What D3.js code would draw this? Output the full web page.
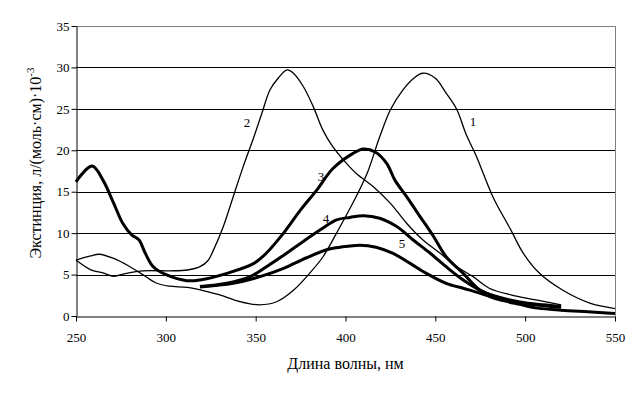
<!DOCTYPE html>
<html>
<head>
<meta charset="utf-8">
<script src="https://cdn.jsdelivr.net/npm/d3@7"></script>
<style>
  body { margin: 0; background: #fff; }
  svg text { font-family: "Liberation Serif", "Times New Roman", serif; }
</style>
</head>
<body>
<div id="chart"></div>
<script>
// кривые 1-5: длина волны (нм) и экстинция
const wl1 = [250, 258, 263, 271, 280, 287.5, 295, 302, 312, 323, 330, 341, 352, 362, 371, 380, 387.5, 395, 404, 412, 419, 425, 432, 438, 443, 450, 456, 462, 467, 473, 482, 492, 499, 508, 521, 536, 550];
const ext1 = [6.75, 7.25, 7.45, 6.95, 5.95, 4.95, 3.95, 3.6, 3.45, 2.95, 2.55, 1.75, 1.35, 1.75, 3.1, 5.15, 7.15, 10, 13.6, 17.2, 21.6, 24.9, 27.3, 28.7, 29.3, 28.7, 26.9, 24.9, 22, 19.2, 14.4, 10.4, 7.55, 5.15, 3.1, 1.55, 0.9];

const wl2 = [250, 258, 265, 271, 278, 287.5, 302, 312, 319, 323.5, 326.5, 332, 337.5, 343, 349, 353.5, 358, 362.5, 367.5, 371, 376.5, 382, 387.5, 393, 399, 406, 415.5, 425, 434, 443, 452.5, 462, 471, 480, 492, 506, 520];
const ext2 = [6.75, 5.6, 5.2, 4.8, 5.15, 5.45, 5.45, 5.55, 5.95, 6.7, 7.95, 10.8, 14.4, 18, 21.6, 24.5, 27.3, 28.7, 29.7, 29.3, 27.7, 25.3, 22.4, 20.4, 18.8, 17.2, 15.6, 13.6, 11.2, 9.2, 7.6, 5.95, 4.75, 3.35, 2.55, 1.95, 1.35];

const wl3 = [250, 259, 265, 271, 276, 281, 285, 288.5, 293, 300.5, 311.5, 319, 334, 349, 356, 365.5, 375, 384, 393, 404, 410, 416.5, 423, 427.5, 434, 441.5, 449, 456, 465.5, 475, 485, 497, 510, 520];
const ext3 = [16.2, 18.1, 16.4, 13.6, 11.2, 9.8, 9.2, 7.6, 5.95, 4.95, 4.26, 4.35, 5.15, 6.35, 7.6, 10, 12.8, 15.2, 17.8, 19.6, 20.15, 19.8, 18.4, 16.4, 14.4, 12, 9.6, 7.15, 5.15, 3.1, 2.3, 1.7, 1.35, 1.15];

const wl4 = [319, 334, 347, 356, 367, 376.5, 386, 395, 402.5, 410, 419, 428.5, 437.5, 447, 456, 465.5, 475, 485, 497, 510, 520];
const ext4 = [3.55, 3.95, 4.75, 5.95, 7.55, 9, 10.4, 11.6, 11.9, 12.1, 11.8, 10.8, 9.2, 7.6, 5.95, 4.35, 3.1, 2.2, 1.6, 1.25, 1.05];

const wl5 = [319, 337.5, 352.5, 365.5, 378, 389.5, 397, 408, 417, 426.5, 436, 445, 456, 465.5, 475, 485, 497, 507, 520, 535, 550];
const ext5 = [3.5, 3.95, 4.75, 5.75, 7, 8, 8.3, 8.55, 8.3, 7.55, 6.35, 5.15, 3.95, 3.35, 2.75, 2.0, 1.4, 0.95, 0.7, 0.5, 0.3];

const lineWidths = [1.3, 1.3, 3, 3, 3];

// подписи кривых (в координатах данных)
const labelText = ["1", "2", "3", "4", "5"];
const labelWl = [470.9, 345.2, 386.4, 389.1, 431.4];
const labelExt = [23.5, 23.3, 16.8, 11.8, 8.7];

const xTicks = [250, 300, 350, 400, 450, 500, 550];
const yTicks = [0, 5, 10, 15, 20, 25, 30, 35];

const width = 641, height = 394;
const margin = { top: 26, right: 26, bottom: 78, left: 76 };

const svg = d3.select("#chart").append("svg")
  .attr("width", width)
  .attr("height", height);

const x = d3.scaleLinear().domain([250, 550]).range([margin.left, width - margin.right]);
const y = d3.scaleLinear().domain([0, 35]).range([height - margin.bottom, margin.top]);

// рамка области построения (серая сверху и справа)
svg.append("path")
  .attr("d", `M${x(250)},${y(35)}H${x(550)}V${y(0)}`)
  .attr("fill", "none")
  .attr("stroke", "#808080")
  .attr("stroke-width", 1)
  .attr("shape-rendering", "crispEdges");

// сетка
svg.append("g")
  .selectAll("line")
  .data(yTicks.filter(d => d > 0 && d < 35))
  .enter().append("line")
  .attr("x1", x(250)).attr("x2", x(550))
  .attr("y1", d => Math.round(y(d)) + 0.5).attr("y2", d => Math.round(y(d)) + 0.5)
  .attr("stroke", "#000")
  .attr("stroke-width", 1);

// оси
const xAxis = svg.append("g")
  .attr("transform", `translate(0,${Math.round(y(0)) + 0.5})`)
  .call(d3.axisBottom(x).tickValues(xTicks).tickSize(5).tickSizeOuter(0));
const yAxis = svg.append("g")
  .attr("transform", `translate(${Math.round(x(250)) + 0.5},0)`)
  .call(d3.axisLeft(y).tickValues(yTicks).tickSize(5).tickSizeOuter(0));

[xAxis, yAxis].forEach(g => {
  g.select(".domain").attr("stroke", "#000");
  g.selectAll(".tick line").attr("stroke", "#000");
  g.selectAll(".tick text")
    .attr("font-family", "Liberation Serif, serif")
    .attr("font-size", 13)
    .attr("fill", "#000");
});
xAxis.selectAll(".tick text").attr("dy", "1.35em");
yAxis.selectAll(".tick text").attr("x", -7);

// кривые
const series = [[wl1, ext1], [wl2, ext2], [wl3, ext3], [wl4, ext4], [wl5, ext5]];
const line = d3.line()
  .x(d => x(d[0]))
  .y(d => y(d[1]))
  .curve(d3.curveCatmullRom.alpha(0.5));

svg.append("g")
  .selectAll("path")
  .data(series)
  .enter().append("path")
  .attr("d", s => line(s[0].map((w, i) => [w, s[1][i]])))
  .attr("fill", "none")
  .attr("stroke", "#000")
  .attr("stroke-width", (s, i) => lineWidths[i])
  .attr("stroke-linejoin", "round");

// номера кривых
svg.append("g")
  .selectAll("text")
  .data(labelText)
  .enter().append("text")
  .attr("x", (d, i) => x(labelWl[i]))
  .attr("y", (d, i) => y(labelExt[i]))
  .attr("text-anchor", "middle")
  .attr("dominant-baseline", "central")
  .attr("font-size", 13)
  .text(d => d);

// подписи осей
svg.append("text")
  .attr("x", (x(250) + x(550)) / 2)
  .attr("y", 369)
  .attr("text-anchor", "middle")
  .attr("font-size", 16)
  .text("Длина волны, нм");

const yTitle = svg.append("text")
  .attr("transform", `translate(41,${(y(0) + y(35)) / 2 - 8}) rotate(-90)`)
  .attr("text-anchor", "middle")
  .attr("font-size", 16);
yTitle.append("tspan").text("Экстинция,  л/(моль·см)·10");
yTitle.append("tspan").attr("dy", -7).attr("font-size", 11).text("-3");
</script>
</body>
</html>
